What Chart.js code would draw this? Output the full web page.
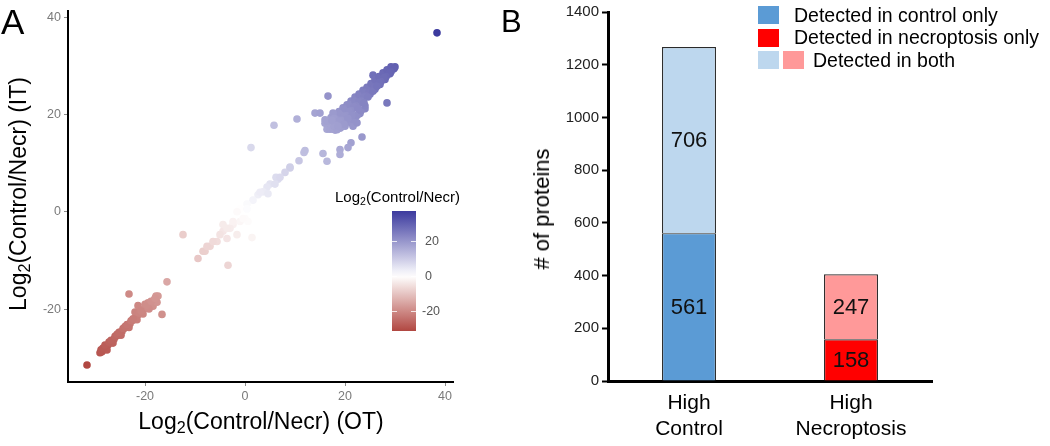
<!DOCTYPE html>
<html>
<head>
<meta charset="utf-8">
<script src="https://cdn.jsdelivr.net/npm/chart.js@4/dist/chart.umd.min.js"></script>
<style>
body { margin: 0; width: 1050px; height: 446px; position: relative; background: #fff; overflow: hidden;
       font-family: "Liberation Sans", Arial, sans-serif; color: #000; }
#wrapA { position: absolute; left: 0; top: 0; width: 510px; height: 446px; }
#wrapB { position: absolute; left: 510px; top: 0; width: 540px; height: 446px; }
.tag { position: absolute; line-height: 1; }
.rot { position: absolute; white-space: nowrap; transform: translate(-50%, -50%) rotate(-90deg); line-height: 1; }
.hor { position: absolute; white-space: nowrap; transform: translate(-50%, -50%); line-height: 1; }
sub { font-size: 70%; vertical-align: -0.25em; line-height: 0; }
.box { position: absolute; width: 21px; height: 18px; }
.legtxt { position: absolute; font-size: 19.5px; white-space: nowrap; transform: translateY(-50%); line-height: 1; }
</style>
</head>
<body>
<div id="wrapA"><canvas id="chartA"></canvas></div>
<div id="wrapB"><canvas id="chartB"></canvas></div>

<div class="tag" style="left:1px;top:4px;font-size:35px;">A</div>
<div class="tag" style="left:501px;top:6px;font-size:31px;">B</div>

<div class="rot" style="left:18px;top:194px;font-size:23px;">Log<sub>2</sub>(Control/Necr) (IT)</div>
<div class="hor" style="left:261px;top:421px;font-size:23px;">Log<sub>2</sub>(Control/Necr) (OT)</div>
<div class="tag" style="left:335px;top:189px;font-size:15px;">Log<sub>2</sub>(Control/Necr)</div>

<div class="rot" style="left:542px;top:209px;font-size:22px;"># of proteins</div>

<div class="box" style="left:758px;top:6px;background:#5b9bd5;"></div>
<div class="legtxt" style="left:794px;top:16px;">Detected in control only</div>
<div class="box" style="left:758px;top:29px;background:#ff0000;"></div>
<div class="legtxt" style="left:794px;top:38px;">Detected in necroptosis only</div>
<div class="box" style="left:758px;top:51px;background:#bdd7ee;"></div>
<div class="box" style="left:783px;top:51px;background:#ff9999;"></div>
<div class="legtxt" style="left:813px;top:61px;">Detected in both</div>

<script>
// ---- panel A data: log2(Control/Necr), OT vs IT ----
// isolated points along the diagonal
const otSparse = [38.4, 25.6, 16.6, 28.4, 14, 15, 10.4, 5.8, 1.2, 23.4, 21.2, 20.6, 19, 19, 15.6, 16.4, 11.8, 10.8, 9, 8,
  6.2, 6.6, 5, 4.4, 3.6, 2.6, 1.6, 0.4, -1, -1.6, 0, 0.6, -1, -2.4, -3, -4.4, 1.4, -1.6, -3.6, -5.6,
  -7, -8, -12.4, -9.4, -3.4, -15.6, -23.2, -16.6, -31.6, 7, 6, 3, 4.6, 0.4, -0.4, -4.4, -5, -6.4, -3.6, -2.4,
  -8.4, -7.6, 12, 9];
const itSparse = [36.8, 28.1, 23.8, 22.4, 20.3, 20.3, 19.1, 17.8, 13.2, 15.4, 14.2, 13.2, 12.8, 11.8, 12, 10.4, 12.2, 10.5, 9, 8.1,
  7.1, 6.7, 5.7, 5.1, 4.1, 3.5, 2.4, 1.6, 0.6, 0, -1.4, -2, -2, -2.6, -3.4, -4, -5.3, -4.7, -5.5, -6.1,
  -7.1, -8.1, -4.7, -9.6, -11, -14.4, -16.9, -21.1, -31.5, 7.1, 5.7, 4, 3.7, 0.6, -1.4, -2.6, -4.7, -6.1, -3.4, -2,
  -8.1, -7.1, 12.6, 9.2];
// dense cluster, higher in control
const otHigh = [30, 29.5, 29, 28.6, 28, 27.5, 27, 26.6, 26, 25.5, 25, 24.6, 24.2, 24, 23.5, 23, 23, 22.6, 22.4, 22,
  22, 21.5, 21.4, 21, 21, 20.5, 20.4, 20, 20, 19.6, 19.4, 19, 19, 18.6, 18.4, 18, 18, 17.6, 17.4, 17,
  17, 16.6, 16.4, 16.8, 17.2, 18, 18.8, 19.6, 20.4, 21.2, 22, 22.8, 23.6, 24.4, 25.2, 26, 26.8, 27.6, 28.4, 29.2,
  18, 19, 20, 21, 22, 23, 24, 21.6, 22.4, 21.6, 17.6, 16, 18.4, 17, 17.6, 18.4, 19.2, 20, 20.8, 21.6,
  22.4, 23.2, 24, 16, 16.4, 17.8, 19.2, 20, 21, 22, 23, 24, 25, 26, 27, 28, 29,
  29.8, 29.2, 28.8, 28.2, 27.8, 27.2, 26.8, 26.2, 25.8, 25.2, 24.8, 24.2, 23.8, 23.2, 22.8, 22.2, 21.8, 21.2, 20.8, 20.2,
  19.8, 19.2, 18.8, 18.2, 17.8, 24.6, 25.6, 26.4, 23.8, 22.6, 21.4, 20.6, 19.8, 18.6, 17.4];
const itHigh = [29.8, 29.4, 29, 28.3, 28, 27.2, 26.8, 26.2, 26, 25.3, 25, 24.2, 24.4, 23.6, 23.4, 23.1, 22.4, 22.8, 22, 22.3,
  21.5, 21.8, 21, 21.2, 20.4, 20.8, 20, 20.5, 19.6, 19.8, 19, 19.5, 18.6, 19, 18.2, 18.6, 17.8, 18.2, 17.4, 18,
  17.2, 17.6, 17, 18.8, 19.4, 20, 20.6, 21.4, 22, 22.8, 23.6, 24.2, 25, 25.6, 26.4, 27.2, 27.8, 28.6, 29.2, 29.8,
  16.8, 17.2, 17.6, 18.4, 19.2, 20.2, 21.2, 17.6, 18.3, 19.3, 20.3, 18.9, 16.9, 17, 17, 17, 17.4, 18.2, 18.6, 19,
  19.8, 20.8, 21.8, 18.2, 18.6, 19.2, 20.2, 21.2, 22, 22.8, 23.8, 24.6, 24.2, 25.2, 26.2, 27.2, 28.4,
  29.4, 28.8, 28.6, 27.8, 27.6, 26.8, 26.6, 25.8, 25.6, 24.8, 24.6, 23.8, 23.6, 22.8, 22.6, 21.8, 21.6, 20.8, 20.6, 19.8,
  19.6, 18.8, 18.6, 17.8, 17.6, 23.6, 24.8, 25.8, 22.4, 21.2, 19.8, 19.2, 18, 17.6, 18.8];
// dense cluster, higher in necroptosis
const otLow = [-29, -28.6, -28.2, -27.8, -27.4, -27, -26.6, -26.2, -25.8, -25.4, -25, -24.6, -24.2, -23.8, -23.4, -23, -22.6, -22.2, -21.8, -21.4,
  -21, -20.6, -20.2, -19.8, -19.4, -19, -18.6, -18.2, -17.8, -17.4, -22, -20, -18.4, -27.6, -26.4, -24.8, -23.2, -21.6, -20.4, -19.2,
  -17.6, -21.4, -19.4, -17.8,
  -28.8, -28.4, -28, -27.2, -26.8, -26, -25.6, -25.2, -24.4, -24, -23.6, -22.8, -22.4, -21.2, -20.8, -19.6, -18.8, -18];
const itLow = [-29, -28.8, -28.2, -27.8, -27.4, -27, -26.5, -26.2, -25.6, -25.4, -24.8, -24.6, -24, -23.8, -23.2, -23, -22.4, -22.2, -21.6, -21.2,
  -20.8, -20.4, -20, -19.6, -19.2, -18.8, -18.6, -18.2, -17.8, -17.3, -20.6, -19, -19.4, -28.4, -27, -25.4, -23.8, -22.2, -21, -20,
  -18.6, -19.3, -18.7, -17.3,
  -28.4, -28, -27.4, -26.8, -26.4, -25.6, -25.2, -24.8, -24, -23.6, -23.2, -22.4, -22, -20.8, -20.4, -19.2, -18.4, -17.8];
const axisTicksA = [-20, 0, 20, 40];
const colorbarTicks = [20, 0, -20];

// ---- panel B data ----
const categories = [['High', 'Control'], ['High', 'Necroptosis']];
const onlyCounts = [561, 158];
const bothCounts = [706, 247];

const FONT = '"Liberation Sans", Arial, sans-serif';
const HIGH = [60, 58, 158], LOW = [176, 68, 62];

function colorFor(v) {
  const end = v >= 0 ? HIGH : LOW;
  const t = Math.min(Math.abs(v) / (v >= 0 ? 37 : 32), 1);
  const c = end.map(e => Math.round(255 + (e - 255) * t));
  return `rgb(${c[0]},${c[1]},${c[2]})`;
}

const ot = otSparse.concat(otHigh, otLow);
const it = itSparse.concat(itHigh, itLow);
const pts = ot.map((x, i) => ({ x: x, y: it[i] }));
const ptColors = pts.map(p => colorFor((p.x + p.y) / 2));

// gradient colour bar drawn beside the scatter
const colorbar = {
  id: 'colorbar',
  afterDraw(chart) {
    const ctx = chart.ctx;
    const x0 = 392, w = 24, top = 211, bot = 331, zero = 276, per = 1.75;
    const g = ctx.createLinearGradient(0, top, 0, bot);
    for (let i = 0; i <= 20; i++) {
      const y = top + (bot - top) * i / 20;
      g.addColorStop(i / 20, colorFor((zero - y) / per));
    }
    ctx.save();
    ctx.fillStyle = g;
    ctx.fillRect(x0, top, w, bot - top);
    ctx.strokeStyle = 'rgba(255,255,255,0.8)';
    ctx.lineWidth = 1;
    ctx.font = '12.5px ' + FONT;
    ctx.fillStyle = '#555';
    ctx.textBaseline = 'middle';
    colorbarTicks.forEach(v => {
      const y = Math.round(zero - v * per) + 0.5;
      ctx.beginPath();
      ctx.moveTo(x0, y); ctx.lineTo(x0 + 5, y);
      ctx.moveTo(x0 + w - 5, y); ctx.lineTo(x0 + w, y);
      ctx.stroke();
      ctx.fillText(String(v), v < 0 ? 422 : 425, y);
    });
    ctx.restore();
  }
};

function fixedTicks(list) {
  return scale => { scale.ticks = list.map(v => ({ value: v })); };
}

new Chart(document.getElementById('chartA'), {
  type: 'scatter',
  data: {
    datasets: [{
      data: pts,
      pointBackgroundColor: ptColors,
      pointBorderWidth: 0,
      pointRadius: 3.8
    }]
  },
  options: {
    responsive: true,
    maintainAspectRatio: false,
    animation: false,
    layout: { padding: { left: 0, right: 57, top: 6, bottom: 0 } },
    plugins: { legend: { display: false }, tooltip: { enabled: false } },
    scales: {
      x: {
        type: 'linear', min: -35.4, max: 41.6,
        afterBuildTicks: fixedTicks(axisTicksA),
        afterFit: s => { s.height = 64; },
        grid: { drawOnChartArea: false, drawTicks: true, tickLength: 4, color: '#8a8a8a' },
        border: { color: '#000', width: 2 },
        ticks: { color: '#7a7a7a', padding: 3, font: { size: 12.5, family: FONT } }
      },
      y: {
        type: 'linear', min: -35, max: 41.4,
        afterBuildTicks: fixedTicks(axisTicksA),
        afterFit: s => { s.width = 68; },
        grid: { drawOnChartArea: false, drawTicks: true, tickLength: 4, color: '#8a8a8a' },
        border: { color: '#000', width: 2 },
        ticks: { color: '#7a7a7a', padding: 3, font: { size: 12.5, family: FONT } }
      }
    }
  },
  plugins: [colorbar]
});

// counts written in the middle of each stacked segment
const segmentLabels = {
  id: 'segmentLabels',
  afterDatasetsDraw(chart) {
    const ctx = chart.ctx;
    ctx.save();
    ctx.font = '22px ' + FONT;
    ctx.fillStyle = '#111';
    ctx.textAlign = 'center';
    ctx.textBaseline = 'middle';
    chart.data.datasets.forEach((ds, i) => {
      chart.getDatasetMeta(i).data.forEach((bar, j) => {
        ctx.fillText(String(ds.data[j]), bar.x, (bar.y + bar.base) / 2 + 1);
      });
    });
    ctx.restore();
  }
};

new Chart(document.getElementById('chartB'), {
  type: 'bar',
  data: {
    labels: categories,
    datasets: [
      { label: 'only', data: onlyCounts, backgroundColor: ['#5b9bd5', '#ff0000'],
        borderColor: '#2a2a2a', borderWidth: 1.2, barPercentage: 0.333, categoryPercentage: 1 },
      { label: 'both', data: bothCounts, backgroundColor: ['#bdd7ee', '#ff9999'],
        borderColor: '#2a2a2a', borderWidth: 1.2, barPercentage: 0.333, categoryPercentage: 1 }
    ]
  },
  options: {
    responsive: true,
    maintainAspectRatio: false,
    animation: false,
    layout: { padding: { left: 0, right: 118, top: 10, bottom: 0 } },
    plugins: { legend: { display: false }, tooltip: { enabled: false } },
    scales: {
      x: {
        stacked: true,
        afterFit: s => { s.height = 65; },
        grid: { display: false, drawTicks: false },
        border: { color: '#000', width: 3 },
        ticks: { color: '#000', padding: 9, font: { size: 21, family: FONT, lineHeight: 1.25 } }
      },
      y: {
        stacked: true, min: 0, max: 1400,
        afterFit: s => { s.width = 98; },
        grid: { drawOnChartArea: false, drawTicks: true, tickLength: 6, tickWidth: 2, color: '#000' },
        border: { color: '#000', width: 3 },
        ticks: { stepSize: 200, color: '#222', padding: 3, font: { size: 15, family: FONT },
                 callback: v => String(v) }
      }
    }
  },
  plugins: [segmentLabels]
});
</script>
</body>
</html>
